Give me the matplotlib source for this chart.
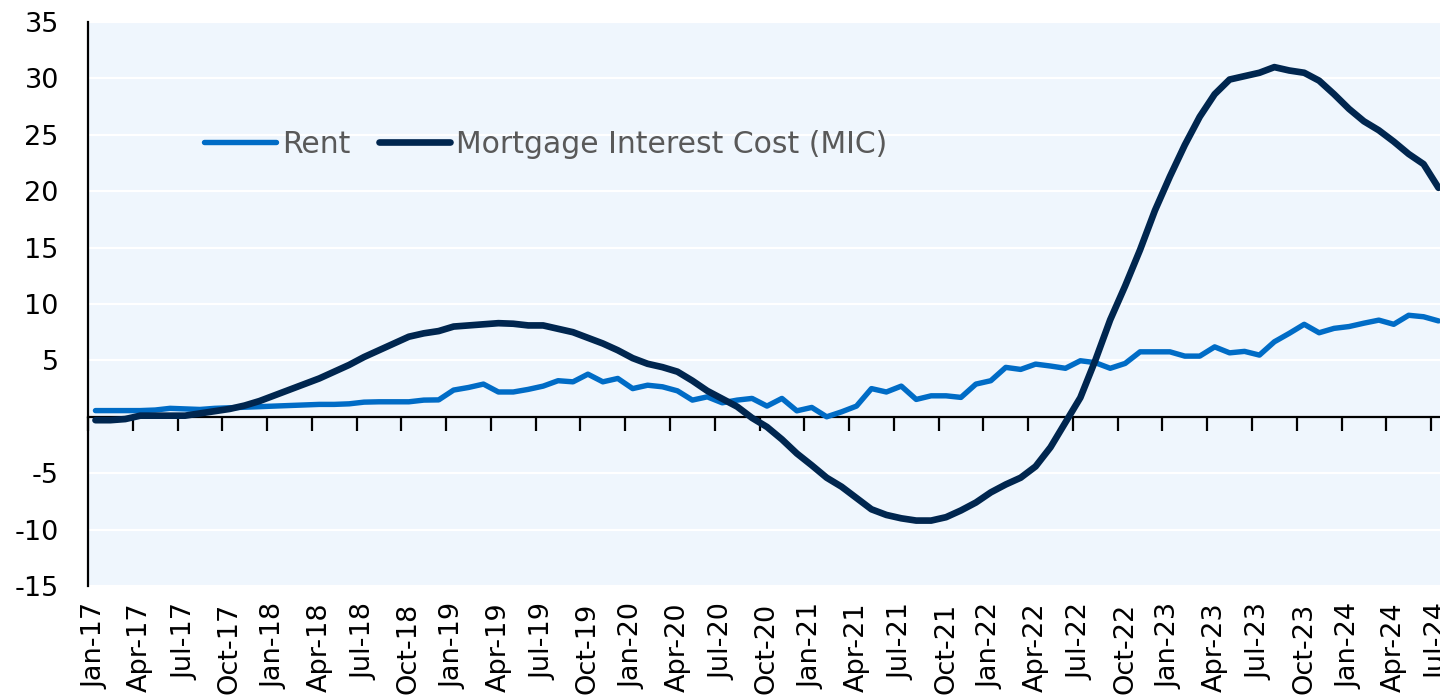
import numpy as np
import pandas as pd
import matplotlib
matplotlib.use("Agg")
import matplotlib.pyplot as plt

# monthly categories, Jan-17 .. Jul-24
months = pd.date_range("2017-01-01", periods=91, freq="MS")
month_labels = [m.strftime("%b-%y") for m in months]

# annual % change
rent = [
    0.55, 0.55, 0.55, 0.55, 0.6, 0.75, 0.7, 0.65, 0.75, 0.8, 0.85, 0.9,
    0.95, 1.0, 1.05, 1.1, 1.1, 1.15, 1.3, 1.33, 1.33, 1.33, 1.48, 1.5,
    2.37, 2.6, 2.9, 2.2, 2.2, 2.43, 2.72, 3.2, 3.1, 3.78, 3.1, 3.4,
    2.5, 2.8, 2.66, 2.3, 1.48, 1.77, 1.24, 1.48, 1.63, 0.95, 1.63, 0.53,
    0.83, 0.0, 0.44, 0.95, 2.5, 2.2, 2.72, 1.54, 1.86, 1.86, 1.72, 2.9,
    3.2, 4.38, 4.2, 4.67, 4.5, 4.3, 4.97, 4.8, 4.3, 4.73, 5.76, 5.76,
    5.76, 5.38, 5.38, 6.2, 5.67, 5.8, 5.47, 6.65, 7.4, 8.2, 7.45, 7.84,
    8.0, 8.3, 8.57, 8.2, 9.0, 8.87, 8.5,
]
mic = [
    -0.3, -0.3, -0.2, 0.1, 0.1, 0.1, 0.1, 0.3, 0.5, 0.7, 1.0, 1.4,
    1.9, 2.4, 2.9, 3.4, 4.0, 4.6, 5.3, 5.9, 6.5, 7.1, 7.4, 7.6,
    8.0, 8.1, 8.2, 8.3, 8.25, 8.1, 8.1, 7.8, 7.5, 7.0, 6.5, 5.9,
    5.2, 4.7, 4.4, 4.0, 3.2, 2.3, 1.6, 0.9, -0.1, -0.9, -2.0, -3.25,
    -4.3, -5.4, -6.2, -7.2, -8.2, -8.7, -9.0, -9.2, -9.2, -8.9, -8.3, -7.6,
    -6.7, -6.0, -5.4, -4.4, -2.7, -0.5, 1.7, 5.0, 8.6, 11.6, 14.8, 18.3,
    21.3, 24.1, 26.6, 28.6, 29.9, 30.2, 30.5, 31.0, 30.7, 30.5, 29.8, 28.6,
    27.3, 26.2, 25.4, 24.4, 23.3, 22.4, 20.3,
]
yticks = [35, 30, 25, 20, 15, 10, 5, -5, -10, -15]

rent_color = "#006CC6"
mic_color = "#00264F"
bg_color = "#EFF6FD"
fs = 19.5

fig = plt.figure(figsize=(14.4, 6.97), dpi=100)
ax = fig.add_axes([88 / 1440, 111 / 697, 1 - 88 / 1440, 564 / 697])
ax.set_facecolor(bg_color)

x = np.arange(len(months))
ax.plot(x, rent, color=rent_color, lw=3.9, solid_capstyle="round",
        solid_joinstyle="round", zorder=3, label="Rent")
ax.plot(x, mic, color=mic_color, lw=4.8, solid_capstyle="round",
        solid_joinstyle="round", zorder=3, label="Mortgage Interest Cost (MIC)")

ax.set_ylim(-15, 35)
ax.set_xlim(-0.5, 90.1)

# y axis
ax.set_yticks(yticks)
ax.set_yticklabels([str(v) for v in yticks])
ax.tick_params(axis="y", length=0, pad=21, labelsize=fs, labelcolor="black")
for v in range(-15, 36, 5):
    ax.axhline(v, color="white", lw=1.6, zorder=1)

# x axis line at zero with tick marks between quarters
ax.spines["bottom"].set_position(("data", 0))
ax.spines["bottom"].set_linewidth(1.6)
ax.spines["left"].set_linewidth(1.6)
ax.spines["top"].set_visible(False)
ax.spines["right"].set_visible(False)
ax.set_xticks(np.arange(-0.5, len(months), 3))
ax.tick_params(axis="x", direction="out", length=10, width=1.6,
               labelbottom=False)

# category labels along the bottom of the plot area
sec = ax.secondary_xaxis("bottom")
sec.spines["bottom"].set_visible(False)
sec.set_xticks(x[::3])
sec.set_xticklabels(month_labels[::3], rotation=90)
sec.tick_params(length=0, pad=12, labelsize=fs, labelcolor="black")

leg = ax.legend(loc="center left", bbox_to_anchor=(0.086, 0.783), ncol=2,
                frameon=False, fontsize=21.5, handlelength=2.4,
                handletextpad=0.2, columnspacing=0.95, borderpad=0,
                borderaxespad=0)
for t in leg.get_texts():
    t.set_color("#595959")
for h in leg.get_lines():
    h.set_solid_capstyle("round")

fig.savefig("out.png", dpi=100)
